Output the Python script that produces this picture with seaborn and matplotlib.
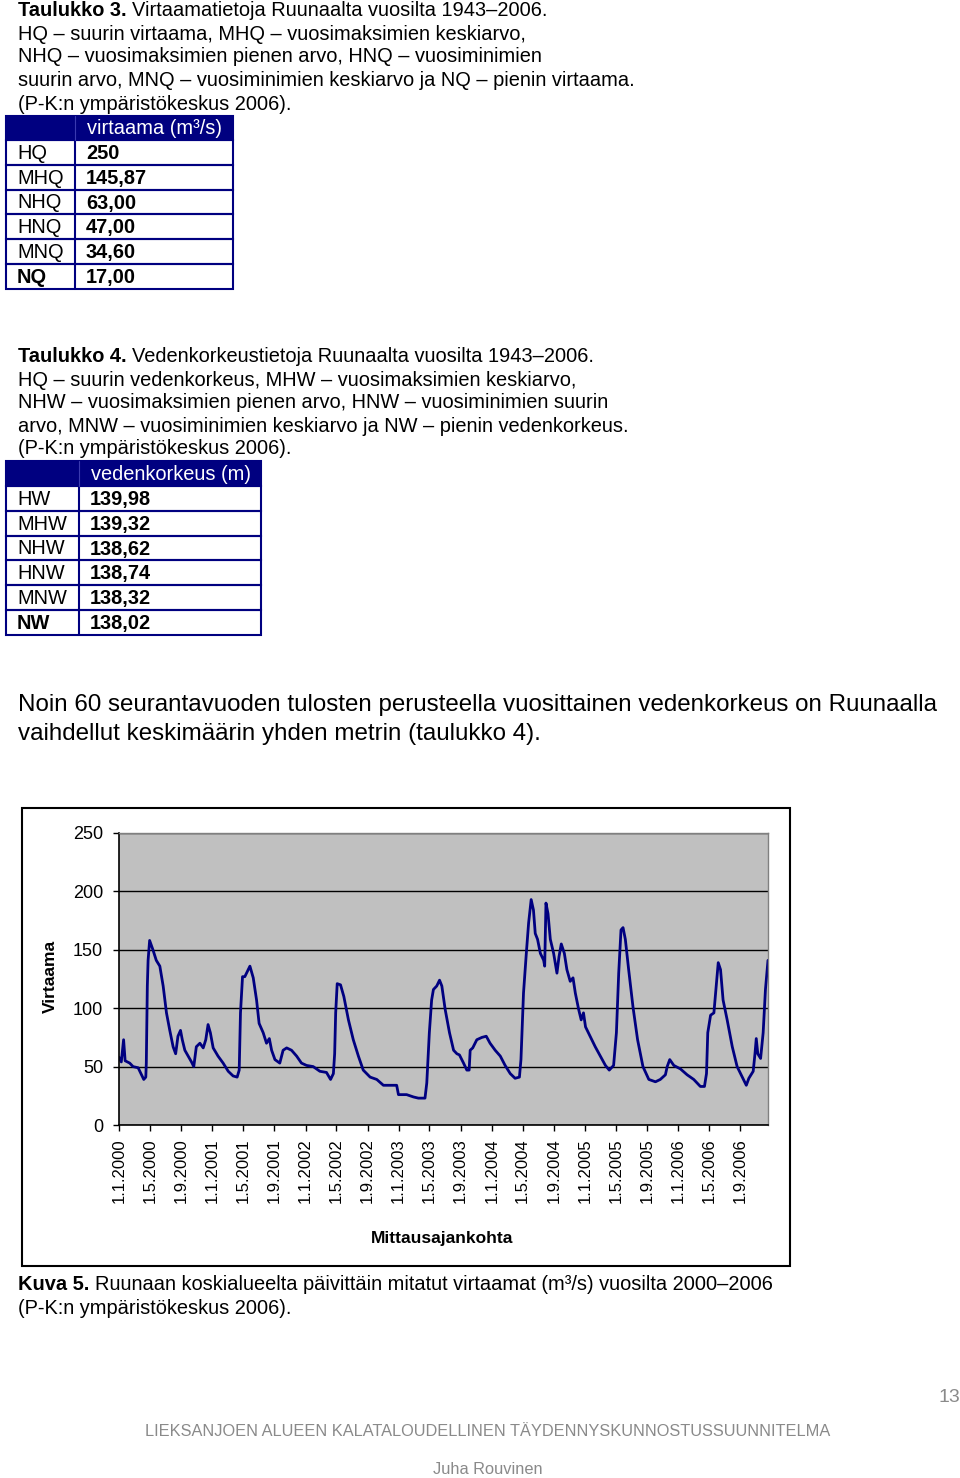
import matplotlib
matplotlib.use("Agg")
import matplotlib.pyplot as plt
import seaborn as sns
import pandas as pd
from matplotlib.patches import Rectangle

# ---------------- data ----------------
t3_labels = ["HQ", "MHQ", "NHQ", "HNQ", "MNQ", "NQ"]
t3_values = ["250", "145,87", "63,00", "47,00", "34,60", "17,00"]
t4_labels = ["HW", "MHW", "NHW", "HNW", "MNW", "NW"]
t4_values = ["139,98", "139,32", "138,62", "138,74", "138,32", "138,02"]

flow_dates = [
    "2000-01-01", "2000-01-10", "2000-01-19", "2000-01-25", "2000-02-12", "2000-02-25",
    "2000-03-16", "2000-03-29", "2000-04-07", "2000-04-15", "2000-04-17", "2000-04-21",
    "2000-04-24", "2000-04-30", "2000-05-13", "2000-05-26", "2000-06-09", "2000-06-22",
    "2000-07-05", "2000-07-18", "2000-07-31", "2000-08-10", "2000-08-19", "2000-08-29",
    "2000-09-05", "2000-09-15", "2000-09-28", "2000-10-11", "2000-10-20", "2000-10-30",
    "2000-11-13", "2000-11-26", "2000-12-06", "2000-12-15", "2000-12-24", "2001-01-04",
    "2001-01-23", "2001-02-12", "2001-03-04", "2001-03-23", "2001-04-08", "2001-04-16",
    "2001-04-21", "2001-04-29", "2001-05-08", "2001-05-17", "2001-05-28", "2001-06-10",
    "2001-06-23", "2001-07-03", "2001-07-19", "2001-08-01", "2001-08-12", "2001-08-21",
    "2001-09-03", "2001-09-22", "2001-10-05", "2001-10-19", "2001-11-07", "2001-11-27",
    "2001-12-16", "2002-01-05", "2002-01-31", "2002-02-26", "2002-03-24", "2002-04-09",
    "2002-04-20", "2002-04-25", "2002-04-29", "2002-05-05", "2002-05-18", "2002-05-31",
    "2002-06-18", "2002-07-07", "2002-07-27", "2002-08-15", "2002-09-11", "2002-10-07",
    "2002-11-02", "2002-12-24", "2002-12-31", "2003-02-01", "2003-02-28", "2003-03-19",
    "2003-04-14", "2003-04-21", "2003-05-01", "2003-05-10", "2003-05-17", "2003-05-30",
    "2003-06-10", "2003-06-19", "2003-07-02", "2003-07-19", "2003-08-04", "2003-08-17",
    "2003-08-27", "2003-09-12", "2003-09-25", "2003-10-04", "2003-10-08", "2003-10-18",
    "2003-11-03", "2003-11-23", "2003-12-10", "2003-12-25", "2004-01-14", "2004-02-03",
    "2004-02-22", "2004-03-13", "2004-04-01", "2004-04-18", "2004-04-24", "2004-05-04",
    "2004-05-15", "2004-05-24", "2004-06-03", "2004-06-12", "2004-06-19", "2004-06-28",
    "2004-07-09", "2004-07-22", "2004-07-26", "2004-07-31", "2004-08-08", "2004-08-17",
    "2004-08-30", "2004-09-12", "2004-09-20", "2004-09-29", "2004-10-11", "2004-10-21",
    "2004-11-03", "2004-11-14", "2004-11-23", "2004-12-06", "2004-12-16", "2004-12-25",
    "2005-01-02", "2005-01-20", "2005-02-09", "2005-03-01", "2005-03-21", "2005-04-05",
    "2005-04-22", "2005-05-03", "2005-05-12", "2005-05-21", "2005-05-29", "2005-06-07",
    "2005-06-20", "2005-07-07", "2005-07-25", "2005-08-15", "2005-09-07", "2005-10-03",
    "2005-10-22", "2005-11-11", "2005-11-18", "2005-11-28", "2005-12-14", "2006-01-09",
    "2006-02-04", "2006-03-02", "2006-03-28", "2006-04-13", "2006-04-21", "2006-04-26",
    "2006-05-07", "2006-05-20", "2006-05-29", "2006-06-06", "2006-06-15", "2006-06-25",
    "2006-07-11", "2006-07-31", "2006-08-19", "2006-09-08", "2006-09-24", "2006-10-04",
    "2006-10-21", "2006-10-28", "2006-11-02", "2006-11-08", "2006-11-19", "2006-11-29",
    "2006-12-08", "2006-12-18",
]
flow_values = [
    58, 54, 73, 55, 53, 50,
    49, 43, 39, 41, 53, 119,
    141, 158, 150, 141, 136, 119,
    96, 81, 67, 61, 76, 81,
    73, 64, 59, 54, 50, 67,
    70, 66, 73, 86, 79, 66,
    59, 53, 46, 42, 41, 47,
    96, 127, 127, 131, 136, 126,
    107, 87, 79, 70, 74, 64,
    56, 53, 64, 66, 64, 59,
    53, 51, 50, 46, 45, 39,
    44, 61, 96, 121, 120, 110,
    90, 73, 59, 47, 41, 39,
    34, 34, 26, 26, 24, 23,
    23, 36, 79, 107, 116, 119,
    124, 119, 99, 79, 64, 61,
    60, 53, 47, 47, 64, 66,
    73, 75, 76, 70, 64, 59,
    51, 44, 40, 41, 56, 113,
    147, 173, 193, 184, 164, 159,
    147, 141, 136, 190, 181, 159,
    147, 130, 144, 155, 147, 133,
    123, 126, 113, 99, 90, 96,
    84, 76, 67, 59, 51, 47,
    51, 79, 130, 167, 169, 159,
    133, 101, 73, 50, 39, 37,
    39, 43, 50, 56, 51, 48,
    43, 39, 33, 33, 44, 79,
    94, 96, 119, 139, 133, 107,
    90, 67, 50, 41, 34, 40,
    46, 61, 74, 61, 57, 79,
    116, 141,
]
y_ticks = [0, 50, 100, 150, 200, 250]

# ---------------- setup ----------------
sns.set_theme(style="white")
plt.rcParams["font.family"] = ["Liberation Sans", "DejaVu Sans"]
plt.rcParams["text.color"] = "black"

W, H = 960, 1478
fig = plt.figure(figsize=(W / 100, H / 100), dpi=100)
fig.patch.set_facecolor("white")
page = fig.add_axes([0, 0, 1, 1])
page.set_xlim(0, W)
page.set_ylim(H, 0)
page.axis("off")

NAVY = "#000080"
BODY = 14.4
renderer = fig.canvas.get_renderer()


def runs(x, y, parts, size=BODY, color="black"):
    for s, w in parts:
        t = page.text(x, y, s, fontsize=size, fontweight=w, va="center",
                      ha="left", color=color)
        bb = t.get_window_extent(renderer)
        x += bb.width + 0.28 * size * 100 / 72


def line(x, y, s, size=BODY, weight="normal", color="black", ha="left"):
    return page.text(x, y, s, fontsize=size, fontweight=weight, va="center",
                     ha=ha, color=color)


def table(top, hdr_h, row_h, x0, xdiv, x1, header, labels, values, lab_x, val_x):
    lw = 1.5
    page.add_patch(Rectangle((x0, top), x1 - x0, hdr_h, facecolor=NAVY,
                             edgecolor=NAVY, lw=lw))
    line(val_x + 1, top + hdr_h / 2 + 1, header, color="white")
    for i, (lab, val) in enumerate(zip(labels, values)):
        y0 = top + hdr_h + i * row_h
        page.add_patch(Rectangle((x0, y0), x1 - x0, row_h, fill=False,
                                 edgecolor=NAVY, lw=lw))
        w = "bold" if i == len(labels) - 1 else "normal"
        line(lab_x, y0 + row_h / 2 + 1, lab, weight=w)
        line(val_x, y0 + row_h / 2 + 1, val, weight="bold")
    bottom = top + hdr_h + len(labels) * row_h
    page.plot([xdiv, xdiv], [top + hdr_h, bottom], color=NAVY, lw=lw)
    page.plot([xdiv, xdiv], [top, top + hdr_h], color="#3a3ab0", lw=0.8)


# ---------------- Table 3 ----------------
runs(18, 11, [("Taulukko 3.", "bold"),
              ("Virtaamatietoja Ruunaalta vuosilta 1943–2006.", "normal")])
line(18, 34, "HQ – suurin virtaama, MHQ – vuosimaksimien keskiarvo,")
line(18, 57, "NHQ – vuosimaksimien pienen arvo, HNQ – vuosiminimien")
line(18, 80, "suurin arvo, MNQ – vuosiminimien keskiarvo ja NQ – pienin virtaama.")
line(18, 104, "(P-K:n ympäristökeskus 2006).")
table(116, 24, 24.8, 6, 75, 233, "virtaama (m³/s)", t3_labels, t3_values, 17, 86)

# ---------------- Table 4 ----------------
runs(18, 356, [("Taulukko 4.", "bold"),
               ("Vedenkorkeustietoja Ruunaalta vuosilta 1943–2006.", "normal")])
line(18, 380, "HQ – suurin vedenkorkeus, MHW – vuosimaksimien keskiarvo,")
line(18, 403, "NHW – vuosimaksimien pienen arvo, HNW – vuosiminimien suurin")
line(18, 426, "arvo, MNW – vuosiminimien keskiarvo ja NW – pienin vedenkorkeus.")
line(18, 449, "(P-K:n ympäristökeskus 2006).")
table(461, 25, 24.8, 6, 79, 261, "vedenkorkeus (m)", t4_labels, t4_values, 17, 90)

# ---------------- paragraph ----------------
line(18, 705, "Noin 60 seurantavuoden tulosten perusteella vuosittainen vedenkorkeus on Ruunaalla", size=17.4)
line(18, 734, "vaihdellut keskimäärin yhden metrin (taulukko 4).", size=17.4)

# ---------------- chart ----------------
page.add_patch(Rectangle((22, 808), 768, 458, fill=False, edgecolor="black", lw=1.5))
line(50, 976, "Virtaama", size=12.5, weight="bold", ha="center").set_rotation(90)
line(442, 1238, "Mittausajankohta", size=12.5, weight="bold", ha="center")

ax = fig.add_axes([119 / W, 1 - 1125 / H, (768 - 119) / W, (1125 - 833) / H])
ax.set_facecolor("#c0c0c0")
dates = pd.to_datetime(flow_dates)
df = pd.DataFrame({"date": dates, "virtaama": flow_values})
sns.lineplot(data=df, x="date", y="virtaama", ax=ax, color=NAVY, lw=2.0)
ax.set_xlim(dates[0], dates[-1])
ax.set_ylim(0, 250)
ax.set_yticks(y_ticks)
ax.set_yticklabels([str(v) for v in y_ticks], fontsize=13, color="black")
xt = pd.date_range("2000-01-01", "2006-09-01", freq="4MS")
ax.set_xticks(xt)
ax.set_xticklabels([f"{d.day}.{d.month}.{d.year}" for d in xt], rotation=90,
                   fontsize=12, color="black")
ax.yaxis.grid(True, color="black", lw=1)
ax.xaxis.grid(False)
ax.set_axisbelow(True)
ax.tick_params(axis="both", direction="out", length=4.5, width=1, color="black",
               bottom=True, left=True)
ax.tick_params(axis="x", pad=5)
ax.tick_params(axis="y", pad=7)
ax.set_xlabel("")
ax.set_ylabel("")
for s in ["left", "bottom"]:
    ax.spines[s].set_color("black")
    ax.spines[s].set_linewidth(1.2)
for s in ["top", "right"]:
    ax.spines[s].set_color("#808080")
    ax.spines[s].set_linewidth(1.0)
    ax.spines[s].set_visible(True)

# ---------------- caption & footer ----------------
runs(18, 1284, [("Kuva 5.", "bold"),
                ("Ruunaan koskialueelta päivittäin mitatut virtaamat (m³/s) vuosilta 2000–2006", "normal")])
line(18, 1308, "(P-K:n ympäristökeskus 2006).")
line(960, 1398, "13", size=14, color="#8a8a8a", ha="right")
line(488, 1432, "LIEKSANJOEN ALUEEN KALATALOUDELLINEN TÄYDENNYSKUNNOSTUSSUUNNITELMA",
     size=11.75, color="#8a8a8a", ha="center")
line(488, 1469, "Juha Rouvinen", size=11.75, color="#8a8a8a", ha="center")

fig.savefig("out.png", dpi=100, facecolor="white")
